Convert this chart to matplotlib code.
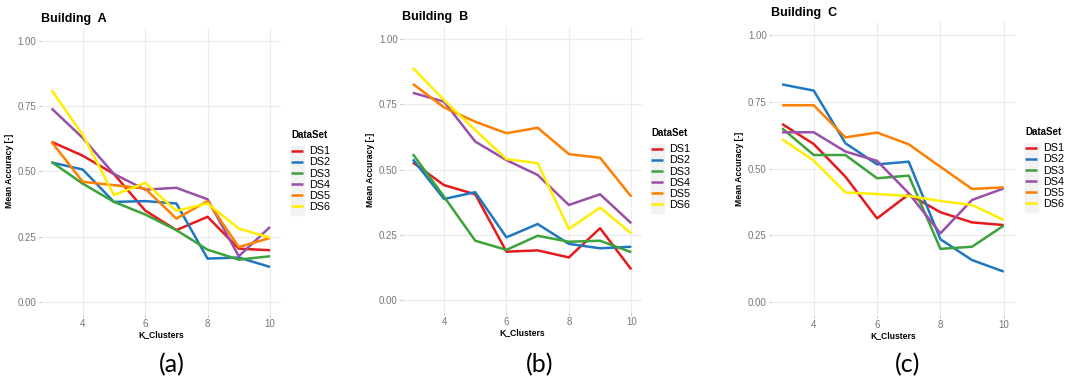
import matplotlib

matplotlib.use("Agg")
import matplotlib.pyplot as plt
from matplotlib.patches import Rectangle

plt.rcParams["font.family"] = ["Liberation Sans", "DejaVu Sans"]

k_clusters = [3, 4, 5, 6, 7, 8, 9, 10]
datasets = ["DS1", "DS2", "DS3", "DS4", "DS5", "DS6"]
colors = ["#e41a1c", "#1f77c0", "#3ca23a", "#9a4fa8", "#ff7f00", "#ffee00"]

# mean accuracy per dataset, one list per building
building_a = {
    "DS1": [0.613, 0.560, 0.490, 0.350, 0.275, 0.326, 0.204, 0.198],
    "DS2": [0.534, 0.507, 0.383, 0.386, 0.377, 0.166, 0.170, 0.134],
    "DS3": [0.536, 0.453, 0.383, 0.335, 0.275, 0.200, 0.162, 0.175],
    "DS4": [0.741, 0.628, 0.490, 0.430, 0.437, 0.393, 0.175, 0.287],
    "DS5": [0.613, 0.460, 0.447, 0.434, 0.319, 0.386, 0.210, 0.245],
    "DS6": [0.811, 0.640, 0.409, 0.456, 0.349, 0.377, 0.281, 0.246],
}
building_b = {
    "DS1": [0.527, 0.440, 0.405, 0.185, 0.190, 0.163, 0.275, 0.117],
    "DS2": [0.539, 0.387, 0.413, 0.240, 0.291, 0.215, 0.198, 0.204],
    "DS3": [0.559, 0.396, 0.227, 0.192, 0.246, 0.223, 0.227, 0.183],
    "DS4": [0.794, 0.760, 0.607, 0.536, 0.479, 0.364, 0.405, 0.294],
    "DS5": [0.828, 0.738, 0.683, 0.639, 0.660, 0.559, 0.545, 0.396],
    "DS6": [0.890, 0.766, 0.651, 0.540, 0.524, 0.272, 0.354, 0.255],
}
building_c = {
    "DS1": [0.667, 0.592, 0.470, 0.314, 0.404, 0.337, 0.299, 0.289],
    "DS2": [0.815, 0.792, 0.595, 0.516, 0.526, 0.236, 0.158, 0.115],
    "DS3": [0.651, 0.551, 0.551, 0.464, 0.474, 0.200, 0.208, 0.287],
    "DS4": [0.636, 0.636, 0.564, 0.529, 0.408, 0.258, 0.383, 0.426],
    "DS5": [0.737, 0.737, 0.617, 0.635, 0.591, 0.507, 0.424, 0.430],
    "DS6": [0.610, 0.530, 0.411, 0.405, 0.398, 0.379, 0.364, 0.308],
}

titles = ["Building  A", "Building  B", "Building  C"]
captions = ["(a)", "(b)", "(c)"]

W, H = 1075, 385
fig = plt.figure(figsize=(W / 100, H / 100), dpi=100)

# panel boxes in pixels: left, top, right, bottom
boxes = [(40.6, 27.7, 280.9, 315.0), (401.9, 26.0, 642.2, 313.0), (771.0, 21.6, 1014.8, 315.7)]
legend_xy = [(291, 130), (651, 128), (1025, 127)]
caption_x = [172, 540, 908]

for data, title, cap, box, lxy, cx in zip(
    [building_a, building_b, building_c], titles, captions, boxes, legend_xy, caption_x
):
    l, t, r, b = box
    ax = fig.add_axes([l / W, 1 - b / H, (r - l) / W, (b - t) / H])
    for name, c in zip(datasets, colors):
        ax.plot(k_clusters, data[name], color=c, lw=1.8, label=name, solid_capstyle="butt")
    ax.set_xlim(2.65, 10.35)
    ax.set_ylim(-0.05, 1.05)
    ax.set_xticks([4, 6, 8, 10])
    ax.set_yticks([0, 0.25, 0.5, 0.75, 1.0])
    ax.set_yticklabels(["0.00", "0.25", "0.50", "0.75", "1.00"])
    ax.grid(True, which="major", color="#ececec", lw=0.9)
    ax.set_axisbelow(True)
    for s in ax.spines.values():
        s.set_visible(False)
    ax.tick_params(which="major", length=1.5, width=0.5, color="#999999",
                   labelsize=7, labelcolor="#777777", pad=1.5)
    ax.set_xlabel("K_Clusters", fontsize=6.2, fontweight="bold", labelpad=1)
    ax.set_ylabel("Mean Accuracy [-]", fontsize=6.2, fontweight="bold", labelpad=3)
    ax.set_title(title, fontsize=9, fontweight="bold", loc="left", x=0.0, y=1.0, pad=4)

    # key background column
    lx, ly = lxy
    fig.add_artist(Rectangle((lx / W, 1 - (ly + 85) / H), 13 / W, 69 / H,
                             transform=fig.transFigure, color="#f2f2f2", zorder=0))
    leg = ax.legend(loc="upper left", bbox_to_anchor=(lx / W, 1 - ly / H),
                    bbox_transform=fig.transFigure, frameon=False,
                    title="DataSet", fontsize=7.8, title_fontsize=7,
                    handlelength=1.1, handletextpad=0.55, labelspacing=0.1,
                    borderpad=0, borderaxespad=0)
    leg.get_title().set_fontweight("bold")
    leg._legend_box.align = "left"
    leg._legend_box.sep = 4.6
    for h in leg.get_lines():
        h.set_linewidth(1.8)

    fig.text(cx / W, 1 - 365 / H, cap, ha="center", va="center",
             fontsize=18, family=["Lato", "DejaVu Sans"])

fig.savefig("out.png", dpi=100)
